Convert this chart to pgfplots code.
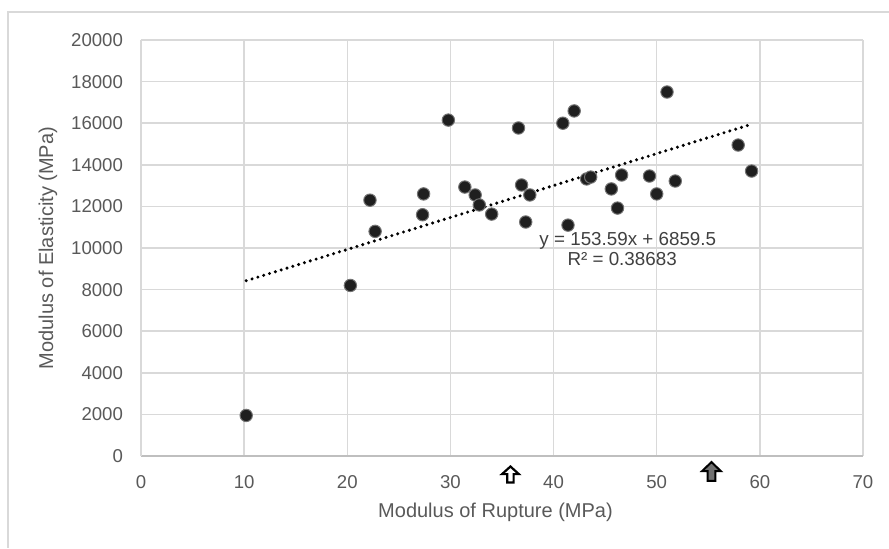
\documentclass[border=0pt]{standalone}
\usepackage{pgfplots}
\pgfplotsset{compat=1.18}
\usepackage{fontspec}
\setmainfont{Liberation Sans}

\definecolor{gridgray}{HTML}{D9D9D9}
\definecolor{axisgray}{HTML}{BFBFBF}
\definecolor{textgray}{HTML}{595959}
\definecolor{trendtext}{HTML}{404040}
\definecolor{arrowgray}{HTML}{707070}

% hollow up arrow
\pgfdeclareplotmark{openarrow}{%
  \pgfpathmoveto{\pgfpoint{-1.6pt}{-4.0pt}}%
  \pgfpathlineto{\pgfpoint{1.6pt}{-4.0pt}}%
  \pgfpathlineto{\pgfpoint{1.6pt}{0.2pt}}%
  \pgfpathlineto{\pgfpoint{4.2pt}{0.2pt}}%
  \pgfpathlineto{\pgfpoint{0pt}{4.0pt}}%
  \pgfpathlineto{\pgfpoint{-4.2pt}{0.2pt}}%
  \pgfpathlineto{\pgfpoint{-1.6pt}{0.2pt}}%
  \pgfpathclose
  \pgfusepathqfillstroke}
% filled up arrow
\pgfdeclareplotmark{fullarrow}{%
  \pgfpathmoveto{\pgfpoint{-1.9pt}{-4.7pt}}%
  \pgfpathlineto{\pgfpoint{1.9pt}{-4.7pt}}%
  \pgfpathlineto{\pgfpoint{1.9pt}{0.2pt}}%
  \pgfpathlineto{\pgfpoint{4.7pt}{0.2pt}}%
  \pgfpathlineto{\pgfpoint{0pt}{4.7pt}}%
  \pgfpathlineto{\pgfpoint{-4.7pt}{0.2pt}}%
  \pgfpathlineto{\pgfpoint{-1.9pt}{0.2pt}}%
  \pgfpathclose
  \pgfusepathqfillstroke}

\begin{document}
\begin{tikzpicture}
\useasboundingbox (-70.5pt,-46pt) rectangle (374pt,228pt);
\draw[gridgray, line width=0.75pt] (374pt,222pt) -- (-66.5pt,222pt) -- (-66.5pt,-46pt);
\begin{axis}[
    scale only axis,
    width=361pt,
    height=208pt,
    xmin=0, xmax=70,
    ymin=0, ymax=20000,
    xtick={0,10,...,70},
    ytick={0,2000,...,20000},
    grid=major,
    grid style={gridgray, line width=0.75pt},
    axis x line*=bottom,
    axis y line*=left,
    x axis line style={axisgray, line width=0.75pt, -},
    y axis line style={gridgray, line width=0.75pt, -},
    major tick length=0pt,
    /pgf/number format/assume math mode=true,
    /pgf/number format/1000 sep={},
    scaled y ticks=false,
    tick label style={font=\fontsize{9.3}{11}\selectfont, text=textgray},
    yticklabel style={xshift=-5.5pt},
    xticklabel style={yshift=-6pt},
    xlabel={Modulus of Rupture (MPa)},
    ylabel={Modulus of Elasticity (MPa)},
    label style={font=\fontsize{10}{12}\selectfont, text=textgray},
    xlabel style={at={(axis description cs:0.491,-0.135)}, anchor=center},
    ylabel style={at={(axis description cs:-0.129,0.5)}, anchor=center},
    clip=false,
]
\addplot[only marks, mark=*, mark size=3.1pt,
    mark options={fill=black!88, draw=black!55, line width=0.5pt}] coordinates {
    (10.2,1950) (20.3,8200) (22.2,12300) (22.7,10800) (27.3,11600)
    (27.4,12600) (29.8,16150) (31.4,12930) (32.4,12550) (32.8,12070)
    (34.0,11630) (36.6,15770) (36.9,13030) (37.3,11250) (37.7,12550)
    (40.9,16000) (41.4,11100) (42.0,16590) (43.2,13320) (43.6,13410)
    (45.6,12840) (46.2,11920) (46.6,13510) (49.3,13460) (50.0,12600)
    (51.0,17500) (51.8,13220) (57.9,14950) (59.2,13700)
};
\addplot[black, line width=1.7pt, line cap=round, dash pattern=on 0pt off 3.05pt]
    coordinates {(10.2,8426.1) (59.2,15952.0)};
\addplot[only marks, mark=openarrow,
    mark options={fill=white, draw=black, line width=1.1pt}] coordinates {(35.82,-889)};
\addplot[only marks, mark=fullarrow,
    mark options={fill=arrowgray, draw=black, line width=1.0pt}] coordinates {(55.31,-745)};
\node[anchor=base, font=\fontsize{9.4}{11}\selectfont, text=trendtext]
    at (axis cs:47.2,10144) {y = 153.59x + 6859.5};
\node[anchor=base, font=\fontsize{9.4}{11}\selectfont, text=trendtext]
    at (axis cs:46.65,9183) {R² = 0.38683};
\end{axis}
\end{tikzpicture}
\end{document}
